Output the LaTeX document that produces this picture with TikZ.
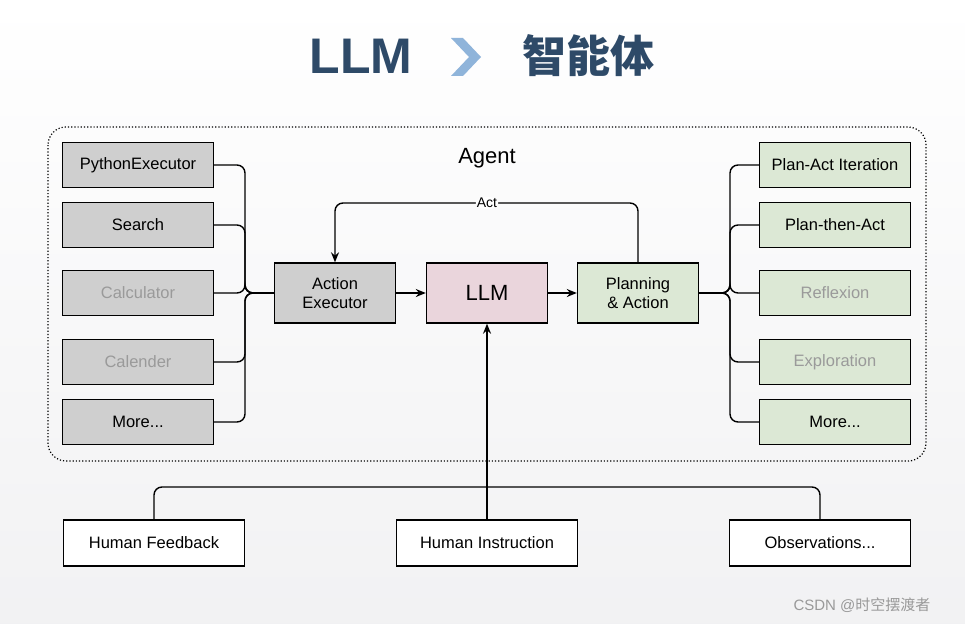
\documentclass[tikz,border=0pt]{standalone}
\usepackage{fontspec}
\setmainfont{Liberation Sans}
\newfontfamily\cjk{Noto Sans CJK SC}
\usetikzlibrary{arrows.meta}
\definecolor{titleblue}{HTML}{2E4A68}
\definecolor{chev}{HTML}{8FB4DA}
\definecolor{toolgray}{HTML}{CFCFCF}
\definecolor{llmpink}{HTML}{EAD5DC}
\definecolor{plangreen}{HTML}{DCE8D5}
\definecolor{fadetext}{HTML}{9A9A9A}
\begin{document}
\begin{tikzpicture}[x=1pt, y=-1pt,
    box/.style={draw, line width=1.4pt, minimum width=151pt, minimum height=45pt,
      font=\fontsize{16.5}{19}\selectfont, align=center},
    tool/.style={box, fill=toolgray},
    strat/.style={box, fill=plangreen},
    core/.style={box, minimum width=121pt, minimum height=60pt},
    inp/.style={box, fill=white, minimum width=181pt, minimum height=46pt},
    faded/.style={text=fadetext},
    wire/.style={line width=1.4pt, rounded corners=8pt},
    arr/.style={line width=1.4pt, -{Stealth[length=10pt, width=8pt]}}]
    \useasboundingbox (0,0) rectangle (965,623);
    \shade[top color=white, bottom color=blue!6!gray!10] (0,0) rectangle (965,623);
    \fill[white, opacity=0.7] (965,0) ellipse (160 and 50);

    % title
    \node [text=titleblue, font=\fontsize{50}{54}\selectfont\bfseries] (ttl1) at (361,56) {LLM};
    \fill [chev] (451,38) -- (463,38) -- (481,57) -- (463,76) -- (451,76) -- (469,57) -- cycle;
    \node [text=titleblue, font=\fontsize{44}{50}\selectfont\cjk\bfseries] (ttl2) at (588,56) {智能体};

    % agent frame
    \draw[line width=1.2pt, dotted, rounded corners=18pt] (48,127) rectangle (926,461);
    \node (agent) at (487,158) {\fontsize{22}{26}\selectfont Agent};

    % tools
    \node [tool] (py) at (138,165) {PythonExecutor};
    \node [tool] (se) at (138,225) {Search};
    \node [tool, faded] (ca) at (138,293) {Calculator};
    \node [tool, faded] (cl) at (138,362) {Calender};
    \node [tool] (tm) at (138,422) {More...};

    % core
    \node [core, fill=toolgray] (ae) at (335,293) {Action\\Executor};
    \node [core, fill=llmpink, font=\fontsize{22}{26}\selectfont] (llm) at (487,293) {LLM};
    \node [core, fill=plangreen] (pa) at (638,293) {Planning\\\& Action};

    % strategies
    \node [strat] (pai) at (835,165) {Plan-Act Iteration};
    \node [strat] (pta) at (835,225) {Plan-then-Act};
    \node [strat, faded] (rf) at (835,293) {Reflexion};
    \node [strat, faded] (ex) at (835,362) {Exploration};
    \node [strat] (sm) at (835,422) {More...};

    % inputs
    \node [inp] (hf) at (154,543) {Human Feedback};
    \node [inp] (hi) at (487,543) {Human Instruction};
    \node [inp] (ob) at (820,543) {Observations...};

    \coordinate (lb) at (245,293);
    \coordinate (rb) at (730,293);
    \coordinate (ib) at (487,487);

    \foreach \t in {py,se,ca,cl,tm}
      \draw [wire] (\t.east) -| (lb) -- (ae.west);
    \foreach \s in {pai,pta,rf,ex,sm}
      \draw [wire] (pa.east) -- (rb) |- (\s.west);

    \draw [arr] (ae) -- (llm);
    \draw [arr] (llm) -- (pa);
    \draw [arr, rounded corners=8pt] (pa.north) |- (487,203) node [fill=white, inner sep=1pt,
      font=\fontsize{14}{16}\selectfont] (act) {Act} -| (ae.north);

    \draw [wire] (hf.north) |- (ib);
    \draw [wire] (ob.north) |- (ib);
    \draw [arr] (hi.north) -- (llm.south);
    \node [text=gray!80, font=\fontsize{15}{17}\selectfont] (wm) at (862,605) {CSDN @{\cjk 时空摆渡者}};
\end{tikzpicture}
\end{document}
